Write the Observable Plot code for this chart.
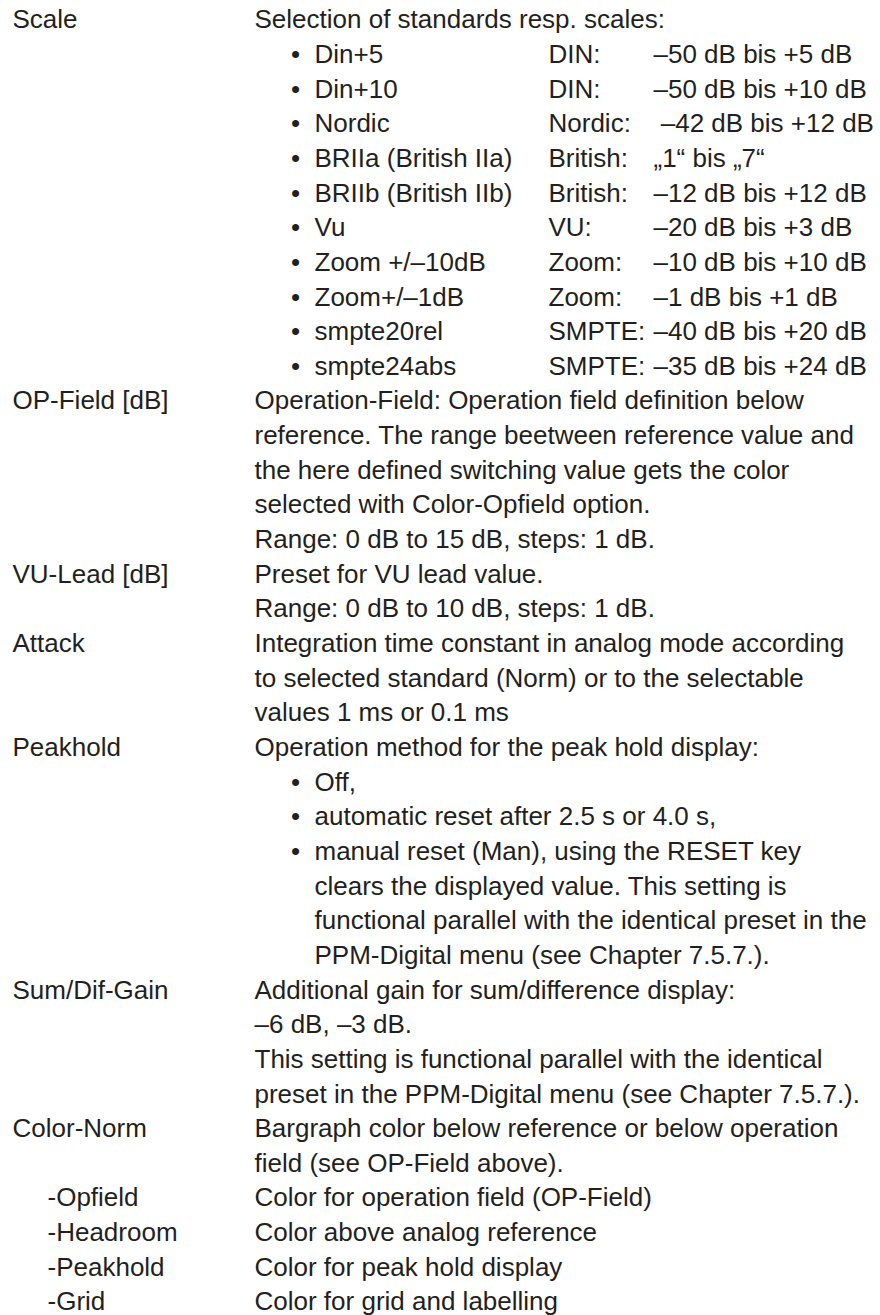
<!DOCTYPE html>
<html>
<head>
<meta charset="utf-8">
<script src="https://cdn.jsdelivr.net/npm/d3@7"></script>
<script src="https://cdn.jsdelivr.net/npm/@observablehq/plot@0.6"></script>
<style>
  html, body { margin: 0; padding: 0; background: #ffffff; }
  #chart svg { display: block; }
</style>
</head>
<body>
<div id="chart"></div>
<script>
// Parameter names (left column), with their line index
const paramLabels = [
  {line: 0, text: "Scale"},
  {line: 11, text: "OP-Field [dB]"},
  {line: 16, text: "VU-Lead [dB]"},
  {line: 18, text: "Attack"},
  {line: 21, text: "Peakhold"},
  {line: 28, text: "Sum/Dif-Gain"},
  {line: 32, text: "Color-Norm"}
];
// Sub-parameters (indented left column)
const subLabels = [
  {line: 34, text: "-Opfield"},
  {line: 35, text: "-Headroom"},
  {line: 36, text: "-Peakhold"},
  {line: 37, text: "-Grid"}
];
// Description lines (middle column)
const descLines = [
  {line: 0, text: "Selection of standards resp. scales:"},
  {line: 11, text: "Operation-Field: Operation field definition below"},
  {line: 12, text: "reference. The range beetween reference value and"},
  {line: 13, text: "the here defined switching value gets the color"},
  {line: 14, text: "selected with Color-Opfield option."},
  {line: 15, text: "Range: 0 dB to 15 dB, steps: 1 dB."},
  {line: 16, text: "Preset for VU lead value."},
  {line: 17, text: "Range: 0 dB to 10 dB, steps: 1 dB."},
  {line: 18, text: "Integration time constant in analog mode according"},
  {line: 19, text: "to selected standard (Norm) or to the selectable"},
  {line: 20, text: "values 1 ms or 0.1 ms"},
  {line: 21, text: "Operation method for the peak hold display:"},
  {line: 28, text: "Additional gain for sum/difference display:"},
  {line: 29, text: "–6 dB, –3 dB."},
  {line: 30, text: "This setting is functional parallel with the identical"},
  {line: 31, text: "preset in the PPM-Digital menu (see Chapter 7.5.7.)."},
  {line: 32, text: "Bargraph color below reference or below operation"},
  {line: 33, text: "field (see OP-Field above)."},
  {line: 34, text: "Color for operation field (OP-Field)"},
  {line: 35, text: "Color above analog reference"},
  {line: 36, text: "Color for peak hold display"},
  {line: 37, text: "Color for grid and labelling"}
];
// Scale list
const scaleNames = ["Din+5", "Din+10", "Nordic", "BRIIa (British IIa)", "BRIIb (British IIb)", "Vu", "Zoom +/–10dB", "Zoom+/–1dB", "smpte20rel", "smpte24abs"];
const scaleStandards = ["DIN:", "DIN:", "Nordic:", "British:", "British:", "VU:", "Zoom:", "Zoom:", "SMPTE:", "SMPTE:"];
const scaleRanges = ["–50 dB bis +5 dB", "–50 dB bis +10 dB", "\u00a0–42 dB bis +12 dB", "„1“ bis „7“", "–12 dB bis +12 dB", "–20 dB bis +3 dB", "–10 dB bis +10 dB", "–1 dB bis +1 dB", "–40 dB bis +20 dB", "–35 dB bis +24 dB"];
const scaleFirstLine = 1;
// Peakhold bullet list (bullet flag = new item, else continuation)
const peakItems = [
  {line: 22, bullet: true, text: "Off,"},
  {line: 23, bullet: true, text: "automatic reset after 2.5 s or 4.0 s,"},
  {line: 24, bullet: true, text: "manual reset (Man), using the RESET key"},
  {line: 25, bullet: false, text: "clears the displayed value. This setting is"},
  {line: 26, bullet: false, text: "functional parallel with the identical preset in the"},
  {line: 27, bullet: false, text: "PPM-Digital menu (see Chapter 7.5.7.)."}
];
const lineCount = 38;

// ---- build tables
const scaleRows = scaleNames.map((n, i) => ({line: scaleFirstLine + i, name: n, std: scaleStandards[i], range: scaleRanges[i]}));
const itemRows = [
  ...scaleRows.map(d => ({line: d.line, bullet: true, text: d.name})),
  ...peakItems
];
const bulletRows = itemRows.filter(d => d.bullet);

// ---- layout / style
const FONT = "'Liberation Sans', Arial, Helvetica, sans-serif";
const INK = "#231f20";
const SIZE = 26;
const COL = {label: 12, sub: 47, desc: 254, bullet: 295, item: 314, std: 548, range: 653};

const common = {y: "line", text: "text", frameAnchor: "left", textAnchor: "start", fontSize: SIZE, fontFamily: FONT, fill: INK};

const chart = Plot.plot({
  width: 880,
  height: 1315,
  margin: 0,
  y: {domain: [0, lineCount - 1], range: [19.5, 1301.6], axis: null},
  marks: [
    Plot.text(paramLabels, {...common, dx: COL.label}),
    Plot.text(subLabels, {...common, dx: COL.sub}),
    Plot.text(descLines, {...common, dx: COL.desc}),
    Plot.text(bulletRows, {...common, text: () => "•", textAnchor: "middle", dx: COL.bullet}),
    Plot.text(itemRows, {...common, dx: COL.item}),
    Plot.text(scaleRows, {...common, text: "std", dx: COL.std}),
    Plot.text(scaleRows, {...common, text: "range", dx: COL.range})
  ]
});
document.getElementById("chart").append(chart);
</script>
</body>
</html>
